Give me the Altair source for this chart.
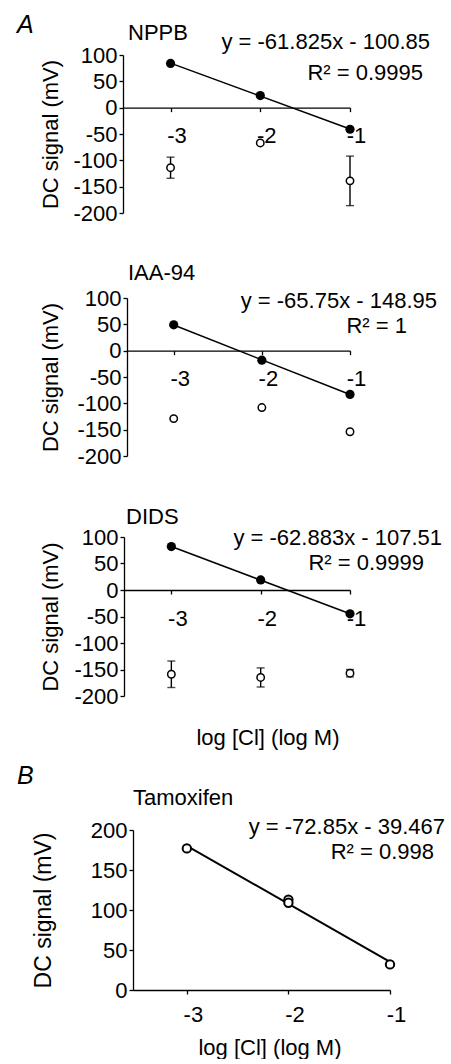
import altair as alt
import pandas as pd

FONT = "Liberation Sans"

# ---------------- data ----------------
log_cl = [-3, -2, -1]

nppb_filled = [84, 23, -41]
nppb_open = [-114, -67, -139]
nppb_err = [20, 0, 47]

iaa_filled = [49, -18, -83]
iaa_open = [-129, -108, -154]
iaa_err = [0, 0, 0]

dids_filled = [82, 19, -45]
dids_open = [-159, -165, -157]
dids_err = [25, 18, 7]

tam_x = [-3, -2, -2, -1]
tam_y = [177, 113, 109, 32]

y_ticks_A = [-200, -150, -100, -50, 0, 50, 100]
y_ticks_B = [0, 50, 100, 150, 200]
x_ticks = [-3, -2, -1]

titles = ["NPPB", "IAA-94", "DIDS", "Tamoxifen"]
equations = ["y = -61.825x - 100.85", "y = -65.75x - 148.95",
             "y = -62.883x - 107.51", "y = -72.85x - 39.467"]
r2_texts = ["R\u00b2 = 0.9995", "R\u00b2 = 1", "R\u00b2 = 0.9999", "R\u00b2 = 0.998"]
panel_letters = ["A", "B"]
y_title = "DC signal (mV)"
x_title = "log [Cl] (log M)"

LBL = "datum.value + ''"  # plain hyphen minus, as in the original


def text_layer(txt, x, y, align="left", size=22, style="normal"):
    return alt.Chart(pd.DataFrame({"t": [txt]})).mark_text(
        align=align, baseline="alphabetic", fontSize=size, font=FONT,
        fontStyle=style, color="black"
    ).encode(x=alt.value(x), y=alt.value(y), text="t:N")


def panel_a(filled, opn, err, idx, h, xoff, pos, extra=None):
    W = 227
    df_f = pd.DataFrame({"x": log_cl, "y": filled})
    df_o = pd.DataFrame({"x": log_cl, "y": opn,
                         "lo": [o - e for o, e in zip(opn, err)],
                         "hi": [o + e for o, e in zip(opn, err)],
                         "e": err})
    xs = alt.Scale(domain=[-3.53, -1], range=[xoff, W], nice=False, zero=False)
    ys = alt.Scale(domain=[-200, 100], nice=False, zero=False)
    xax = alt.Axis(values=x_ticks, offset=-(h * 200 / 300), title=None,
                   tickSize=4, labelPadding=14, labelOffset=6, labelExpr=LBL)
    yax = alt.Axis(values=y_ticks_A, offset=-xoff, title=y_title,
                   titleX=-(123 + xoff - 62), titleY=h / 2, tickSize=4,
                   labelPadding=2, labelExpr=LBL)
    X = alt.X("x:Q", scale=xs, axis=xax)
    Y = alt.Y("y:Q", scale=ys, axis=yax)

    reg = alt.Chart(df_f).transform_regression("x", "y").mark_line(
        color="black", strokeWidth=1.5).encode(x=X, y=Y)
    fpts = alt.Chart(df_f).mark_point(filled=True, size=85, color="black",
                                      opacity=1, shape="circle").encode(x=X, y=Y)
    ebase = alt.Chart(df_o).transform_filter("datum.e > 0")
    erule = ebase.mark_rule(color="black", strokeWidth=1.4).encode(
        x=X, y=alt.Y("lo:Q", scale=ys, axis=yax), y2="hi:Q")
    etick = ebase.transform_fold(["lo", "hi"], as_=["k", "v"]).mark_tick(
        orient="horizontal", size=8, thickness=1.4, color="black").encode(
        x=X, y=alt.Y("v:Q", scale=ys, axis=yax))
    opts = alt.Chart(df_o).mark_point(shape="circle", filled=True, fill="white",
                                      stroke="black", strokeWidth=1.5, size=55,
                                      opacity=1).encode(x=X, y=Y)
    layers = [erule, etick, reg, fpts, opts,
              text_layer(titles[idx], pos[0][0], pos[0][1]),
              text_layer(equations[idx], pos[1][0], pos[1][1], align="right"),
              text_layer(r2_texts[idx], pos[2][0], pos[2][1], align="right")]
    if extra:
        layers += extra
    return alt.layer(*layers).properties(width=W, height=h)


def panel_b(h, xoff, pos):
    W = 267
    df = pd.DataFrame({"x": tam_x, "y": tam_y})
    xs = alt.Scale(domain=[-3.53, -1], range=[xoff, W], nice=False, zero=False)
    ys = alt.Scale(domain=[0, 200], nice=False, zero=False)
    xax = alt.Axis(values=x_ticks, title=None, tickSize=4, labelPadding=10,
                   labelOffset=6, labelExpr=LBL)
    yax = alt.Axis(values=y_ticks_B, offset=-xoff, title=y_title,
                   titleX=-(123 + xoff - 55), titleY=h / 2, titleFontSize=23,
                   tickSize=4, labelPadding=2, labelExpr=LBL)
    X = alt.X("x:Q", scale=xs, axis=xax)
    Y = alt.Y("y:Q", scale=ys, axis=yax)
    reg = alt.Chart(df).transform_regression("x", "y").mark_line(
        color="black", strokeWidth=2).encode(x=X, y=Y)
    pts = alt.Chart(df).mark_point(shape="circle", filled=True, fill="white",
                                   stroke="black", strokeWidth=2, size=70,
                                   opacity=1).encode(x=X, y=Y)
    layers = [reg, pts,
              text_layer(panel_letters[1], -106, -46, size=25, style="italic"),
              text_layer(titles[3], pos[0][0], pos[0][1]),
              text_layer(equations[3], pos[1][0], pos[1][1], align="right"),
              text_layer(r2_texts[3], pos[2][0], pos[2][1], align="right"),
              text_layer(x_title, 147, 225, align="center")]
    return alt.layer(*layers).properties(width=W, height=h)


def spacer(h):
    return alt.Chart(pd.DataFrame({"v": [0]})).mark_point(opacity=0).encode(
        x=alt.X("v:Q", axis=None), y=alt.Y("v:Q", axis=None)
    ).properties(width=1, height=h)


p1 = panel_a(nppb_filled, nppb_open, nppb_err, 0, 158, 0,
             [(5, -15), (307, -6), (300, 25)],
             extra=[text_layer(panel_letters[0], -106, -22, size=25, style="italic")])
p2 = panel_a(iaa_filled, iaa_open, iaa_err, 1, 158, 4,
             [(5, -18), (314, 10), (284, 35)])
p3 = panel_a(dids_filled, dids_open, dids_err, 2, 159, 1,
             [(3, -13), (319, 8), (301, 33)],
             extra=[text_layer(x_title, 145, 208, align="center")])
p4 = panel_b(160, 10, [(10, -25), (322, 4), (311, 29)])

chart = alt.vconcat(p1, spacer(85), p2, spacer(81), p3, spacer(134), p4,
                    spacing=0, bounds="flush").properties(
    padding={"left": 17, "top": 13, "right": 0, "bottom": 0}
).configure_axis(
    labelFont=FONT, labelFontSize=22, labelColor="black",
    titleFont=FONT, titleFontSize=22, titleFontWeight="normal", titleColor="black",
    domainColor="black", tickColor="black", domainWidth=1.3, tickWidth=1.3,
    grid=False, labelFlush=False, labelOverlap=False
).configure_view(stroke=None)

chart.save("out.html", embed_options={"renderer": "svg", "actions": False})
